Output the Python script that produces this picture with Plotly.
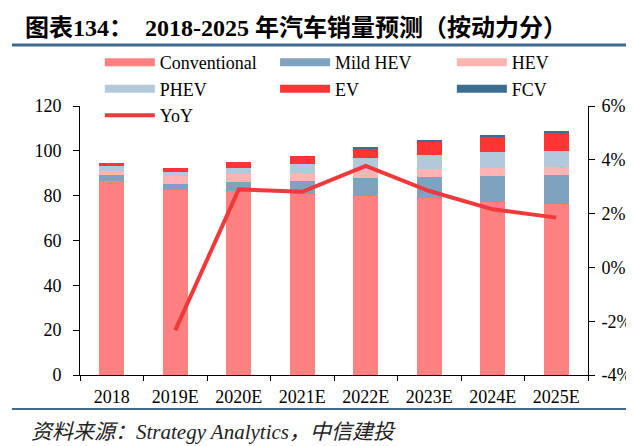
import plotly.graph_objects as go

# --- data ---
years = ["2018", "2019E", "2020E", "2021E", "2022E", "2023E", "2024E", "2025E"]
conventional = [86.7, 82.6, 82.1, 80.7, 79.9, 78.9, 77.1, 76.3]
mild_hev = [2.3, 2.8, 4.2, 6.0, 7.9, 9.6, 11.7, 12.7]
hev = [2.2, 3.3, 3.3, 3.3, 3.7, 3.3, 3.6, 3.7]
phev = [2.1, 1.9, 2.7, 4.2, 5.2, 6.3, 7.0, 7.4]
ev = [1.3, 1.9, 2.9, 3.7, 4.3, 6.1, 6.9, 8.2]
fcv = [0.0, 0.0, 0.0, 0.0, 0.6, 0.4, 0.4, 0.5]
yoy_years = ["2019E", "2020E", "2021E", "2022E", "2023E", "2024E", "2025E"]
yoy = [-0.0234, 0.029, 0.0281, 0.0377, 0.0284, 0.0216, 0.0185]
yoy_ticks = [-0.04, -0.02, 0.0, 0.02, 0.04, 0.06]
yoy_ticklabels = ["-4%", "-2%", "0%", "2%", "4%", "6%"]

SERIF = "Liberation Serif, Times New Roman, Noto Sans CJK SC"
colors = {
    "Conventional": "#FF8080",
    "Mild HEV": "#7FA3BE",
    "HEV": "#FFB4B4",
    "PHEV": "#B3C8DA",
    "EV": "#FF3434",
    "FCV": "#3B6E92",
}
yoy_color = "#EE3A3A"
rule_color = "#3E6B8C"

series = [
    ("Conventional", conventional, "legend"),
    ("Mild HEV", mild_hev, "legend2"),
    ("HEV", hev, "legend3"),
    ("PHEV", phev, "legend"),
    ("EV", ev, "legend2"),
    ("FCV", fcv, "legend3"),
]

fig = go.Figure()

for name, vals, _ in series:
    fig.add_trace(go.Bar(x=years, y=vals, name=name, marker_color=colors[name],
                         marker_line_width=0, width=0.4, showlegend=False))

fig.add_trace(go.Scatter(x=yoy_years, y=yoy, name="YoY", yaxis="y2", mode="lines",
                         line=dict(color=yoy_color, width=4), showlegend=False))

# legend entries: wide swatches like the original
for name, _, lg in series:
    fig.add_trace(go.Scatter(x=[None], y=[None], mode="lines", name=name, legend=lg,
                             line=dict(color=colors[name], width=8)))
fig.add_trace(go.Scatter(x=[None], y=[None], mode="lines", name="YoY", legend="legend",
                         line=dict(color=yoy_color, width=4)))

leg = dict(orientation="v", yanchor="top", y=1.23, xanchor="left", traceorder="normal",
           font=dict(family=SERIF, size=18, color="black"),
           bgcolor="rgba(0,0,0,0)", tracegroupgap=0, itemwidth=50)

axis_font = dict(family=SERIF, size=18, color="black")

# page body has an 8px margin, so the figure is sized 8px smaller than the window
fig.update_layout(
    width=626, height=438,
    margin=dict(l=72, r=46, t=98, b=71, autoexpand=False),
    plot_bgcolor="white", paper_bgcolor="white",
    barmode="stack",
    legend=dict(leg, x=0.039),
    legend2=dict(leg, x=0.384),
    legend3=dict(leg, x=0.732),
    xaxis=dict(type="category", showline=True, linecolor="black", linewidth=1,
               ticks="outside", tickson="boundaries", ticklen=5, tickcolor="black",
               tickfont=axis_font, showgrid=False, ticklabelstandoff=5),
    yaxis=dict(range=[0, 120], dtick=20, showline=True, linecolor="black", linewidth=1,
               ticks="outside", ticklen=6, tickcolor="black", tickfont=axis_font,
               showgrid=False, zeroline=False, ticklabelstandoff=8),
    yaxis2=dict(range=[-0.04, 0.06], tickvals=yoy_ticks, ticktext=yoy_ticklabels,
                overlaying="y", side="right", showline=True, linecolor="black", linewidth=1,
                ticks="outside", ticklen=6, tickcolor="black", tickfont=axis_font,
                showgrid=False, zeroline=False, ticklabelstandoff=3),
    annotations=[
        dict(text="<b>图表134：  2018-2025 年汽车销量预测（按动力分）</b>",
             xref="paper", yref="paper", x=-0.112, y=1.29, xanchor="left", yanchor="middle",
             showarrow=False, font=dict(family=SERIF, size=24, color="black")),
        dict(text="<i>资料来源：Strategy Analytics，中信建投</i>",
             xref="paper", yref="paper", x=-0.1, y=-0.212, xanchor="left", yanchor="middle",
             showarrow=False, font=dict(family=SERIF, size=21, color="#222222")),
    ],
    shapes=[
        dict(type="line", xref="paper", yref="paper", x0=-0.134, x1=1.1, y0=1.227, y1=1.227,
             line=dict(color=rule_color, width=3)),
        dict(type="line", xref="paper", yref="paper", x0=-0.134, x1=1.1, y0=-0.126, y1=-0.126,
             line=dict(color=rule_color, width=2)),
    ],
)

fig.write_html("out.html")
